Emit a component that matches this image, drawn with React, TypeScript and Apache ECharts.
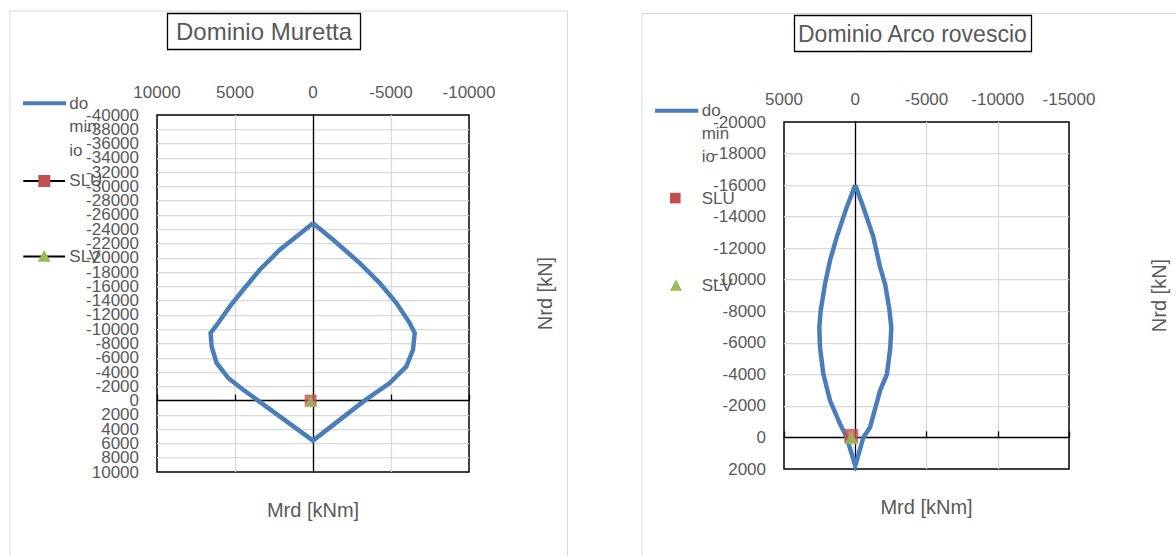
import React, { useEffect, useRef } from "react";
import * as echarts from "echarts";

const FONT = "'Liberation Sans', Arial, sans-serif";
const TEXT = "#595959";
const BLUE = "#4a7ebb";
const RED = "#c0504d";
const GREEN = "#9bbb59";
const GRID_GRAY = "#d9d9d9";

// ---- Chart 1: Dominio Muretta (M [kNm], N [kN]) ----
const murettaTitle = "Dominio Muretta";
const murettaDominio: [number, number][] = [
  [0, -24850], [-1287, -22528], [-2997, -19262], [-4278, -16462], [-5347, -13662],
  [-6199, -10866], [-6519, -9466], [-6410, -7128], [-5988, -4790], [-4918, -2466],
  [-3300, 0], [0, 5600], [3520, 0], [4474, -1528], [5437, -3166], [6180, -5266],
  [6500, -7590], [6565, -9466], [6077, -10866], [5328, -13190], [4474, -15528],
  [3407, -18328], [2126, -21128], [1057, -22990], [0, -24850],
];
const murettaSLU: [number, number][] = [[150, 0]];
const murettaSLV: [number, number][] = [[150, 100]];
const murettaM = { min: -10000, max: 10000, interval: 5000 };
const murettaN = { min: -40000, max: 10000, interval: 2000 };
const murettaNTicks = [
  "-40000", "-38000", "-36000", "-34000", "-32000", "-30000", "-28000", "-26000", "-24000",
  "-22000", "-20000", "-18000", "-16000", "-14000", "-12000", "-10000", "-8000", "-6000",
  "-4000", "-2000", "0", "2000", "4000", "6000", "8000", "10000",
];

// ---- Chart 2: Dominio Arco rovescio ----
const arcoTitle = "Dominio Arco rovescio";
const arcoDominio: [number, number][] = [
  [0, -16000], [-569, -14600], [-1272, -12700], [-1742, -10800], [-2100, -9700],
  [-2400, -8100], [-2529, -6950], [-2450, -5600], [-2220, -4000], [-1742, -2974],
  [-1040, -650], [-569, 0], [0, 1800], [597, 0], [1068, -861], [1770, -2340],
  [2241, -4033], [2473, -5720], [2522, -6989], [2424, -8048], [2121, -9742],
  [1770, -11220], [1300, -12700], [597, -14602], [0, -16000],
];
const arcoSLU: [number, number][] = [[280, -100]];
const arcoSLV: [number, number][] = [[270, 0]];
const arcoM = { min: -15000, max: 5000, interval: 5000 };
const arcoN = { min: -20000, max: 2000, interval: 2000 };
const arcoNTicks = [
  "-20000", "-18000", "-16000", "-14000", "-12000", "-10000", "-8000", "-6000",
  "-4000", "-2000", "0", "2000",
];

const xName = "Mrd [kNm]";
const yName = "Nrd [kN]";
const seriesNames = ["dominio", "SLU", "SLV"];

const fmt = (v: number) => String(v);
const labelStyle = { color: TEXT, fontSize: 17, fontFamily: FONT };

function buildAxes(g: number, m: any, n: any, nTicks: string[], xGap: number, yGap: number) {
  const split = { show: true, showMinLine: false, showMaxLine: false, lineStyle: { color: GRID_GRAY, width: 1.25 } };
  const xAxes = [
    {
      gridIndex: g, type: "value", position: "top", inverse: true, ...m,
      axisLine: { show: false, onZero: false }, axisTick: { show: false },
      axisLabel: { ...labelStyle, formatter: fmt, showMinLabel: true, showMaxLabel: true, margin: 14 },
      splitLine: split,
    },
    {
      gridIndex: g, type: "value", position: "bottom", inverse: true, ...m,
      axisLine: { show: true, onZero: true, lineStyle: { color: "#000", width: 1.3 } },
      axisTick: { show: true, inside: true, length: 6, lineStyle: { color: "#000", width: 1.3 } },
      axisLabel: { show: false }, splitLine: { show: false },
    },
    {
      gridIndex: g, type: "value", position: "bottom", inverse: true, ...m,
      axisLine: { show: false, onZero: false }, axisTick: { show: false },
      axisLabel: { show: false }, splitLine: { show: false },
      name: xName, nameLocation: "middle", nameGap: xGap,
      nameTextStyle: { color: TEXT, fontSize: 20, fontFamily: FONT },
    },
  ];
  const yAxes = [
    {
      gridIndex: g, type: "value", position: "left", inverse: true, ...n,
      axisLine: { show: false, onZero: false }, axisTick: { show: false },
      axisLabel: { show: false }, splitLine: split,
    },
    {
      gridIndex: g, type: "value", position: "left", inverse: true, ...n,
      axisLine: { show: true, onZero: true, lineStyle: { color: "#000", width: 1.3 } },
      axisTick: { show: false }, axisLabel: { show: false }, splitLine: { show: false },
    },
    {
      gridIndex: g, type: "value", position: "right", inverse: true, ...n,
      axisLine: { show: false, onZero: false }, axisTick: { show: false },
      axisLabel: { show: false }, splitLine: { show: false },
      name: yName, nameLocation: "middle", nameGap: yGap, nameRotate: 90,
      nameTextStyle: { color: TEXT, fontSize: 20, fontFamily: FONT },
    },
    {
      gridIndex: g, type: "category", position: "left", inverse: true, boundaryGap: false,
      data: nTicks,
      axisLine: { show: false, onZero: false }, axisTick: { show: false },
      axisLabel: { ...labelStyle, interval: 0, margin: 18 },
      splitLine: { show: false },
    },
  ];
  return { xAxes, yAxes };
}

function buildSeries(g: number, dom: any, slu: any, slv: any, mk: number) {
  const xi = g * 3;
  const yi = g * 4;
  return [
    {
      type: "line", name: seriesNames[0], xAxisIndex: xi, yAxisIndex: yi, data: dom,
      showSymbol: false, symbol: "none", z: 3,
      lineStyle: { color: BLUE, width: 4.5, join: "miter" },
    },
    {
      type: "scatter", name: seriesNames[1], xAxisIndex: xi, yAxisIndex: yi, data: slu,
      symbol: "rect", symbolSize: mk, itemStyle: { color: RED }, z: 4,
    },
    {
      type: "scatter", name: seriesNames[2], xAxisIndex: xi, yAxisIndex: yi, data: slv,
      symbol: "triangle", symbolSize: mk, itemStyle: { color: GREEN }, z: 5,
    },
  ];
}

function txt(x: number, y: number, text: string) {
  return {
    type: "text", x, y, z: 10,
    style: {
      text, fill: TEXT, fontSize: 17, fontFamily: FONT,
      align: "left", verticalAlign: "middle", textAlign: "left", textVerticalAlign: "middle",
    },
  };
}

export default function App() {
  const ref = useRef<HTMLDivElement>(null);
  useEffect(() => {
    document.body.style.margin = "0";
    const chart = echarts.init(ref.current!, undefined, { renderer: "svg" });
    const a1 = buildAxes(0, murettaM, murettaN, murettaNTicks, 28, 66);
    const a2 = buildAxes(1, arcoM, arcoN, arcoNTicks, 28, 80);
    const option: any = {
      animation: false,
      backgroundColor: "#fff",
      textStyle: { fontFamily: FONT },
      title: [
        {
          text: murettaTitle, left: 167, top: 13, borderColor: "#000", borderWidth: 1.3,
          padding: [6, 9, 6, 9],
          textStyle: { fontSize: 24, fontWeight: "normal", color: TEXT, fontFamily: FONT, lineHeight: 25 },
        },
        {
          text: arcoTitle, left: 794, top: 15, borderColor: "#000", borderWidth: 1.3,
          padding: [6, 4, 6, 4],
          textStyle: { fontSize: 23, fontWeight: "normal", color: TEXT, fontFamily: FONT, lineHeight: 25 },
        },
      ],
      grid: [
        { left: 157, top: 115, width: 312, height: 357, show: true, borderColor: "#000", borderWidth: 1.5, backgroundColor: "transparent" },
        { left: 784, top: 122, width: 285, height: 347, show: true, borderColor: "#000", borderWidth: 1.5, backgroundColor: "transparent" },
      ],
      xAxis: [...a1.xAxes, ...a2.xAxes],
      yAxis: [...a1.yAxes, ...a2.yAxes],
      series: [
        ...buildSeries(0, murettaDominio, murettaSLU, murettaSLV, 12),
        ...buildSeries(1, arcoDominio, arcoSLU, arcoSLV, 14),
      ],
      graphic: [
        { type: "rect", z: -10, shape: { x: 10, y: 11, width: 557.5, height: 600 }, style: { fill: "none", stroke: "#d9d9d9", lineWidth: 1 } },
        { type: "rect", z: -10, shape: { x: 642, y: 13.5, width: 600, height: 600 }, style: { fill: "none", stroke: "#d9d9d9", lineWidth: 1 } },
        // legend chart 1
        { type: "line", z: 10, shape: { x1: 23, y1: 103.3, x2: 66, y2: 103.3 }, style: { stroke: BLUE, lineWidth: 4 } },
        txt(69.3, 103.3, "do"), txt(69.3, 126.6, "min"), txt(69.3, 150.7, "io"),
        { type: "line", z: 10, shape: { x1: 23.3, y1: 180.9, x2: 65, y2: 180.9 }, style: { stroke: "#000", lineWidth: 2 } },
        { type: "rect", z: 11, shape: { x: 38.3, y: 175, width: 12, height: 12 }, style: { fill: RED } },
        txt(69.3, 180.9, "SLU"),
        { type: "line", z: 10, shape: { x1: 23.3, y1: 256.4, x2: 65, y2: 256.4 }, style: { stroke: "#000", lineWidth: 2 } },
        { type: "polygon", z: 11, shape: { points: [[44.2, 250], [37.7, 261.7], [50.7, 261.7]] }, style: { fill: GREEN } },
        txt(69.3, 256.4, "SLV"),
        // legend chart 2
        { type: "line", z: 10, shape: { x1: 655, y1: 110.7, x2: 698.3, y2: 110.7 }, style: { stroke: BLUE, lineWidth: 4 } },
        txt(701.7, 110.7, "do"), txt(701.7, 133.3, "min"), txt(701.7, 156.7, "io"),
        { type: "rect", z: 11, shape: { x: 670, y: 192.8, width: 10.6, height: 10.6 }, style: { fill: RED } },
        txt(701.7, 198.3, "SLU"),
        { type: "polygon", z: 11, shape: { points: [[676, 279.3], [670, 290.7], [682, 290.7]] }, style: { fill: GREEN } },
        txt(701.7, 285, "SLV"),
      ],
    };
    chart.setOption(option);
    return () => chart.dispose();
  }, []);
  return <div ref={ref} style={{ position: "absolute", left: 0, top: 0, width: 1176, height: 556 }} />;
}
